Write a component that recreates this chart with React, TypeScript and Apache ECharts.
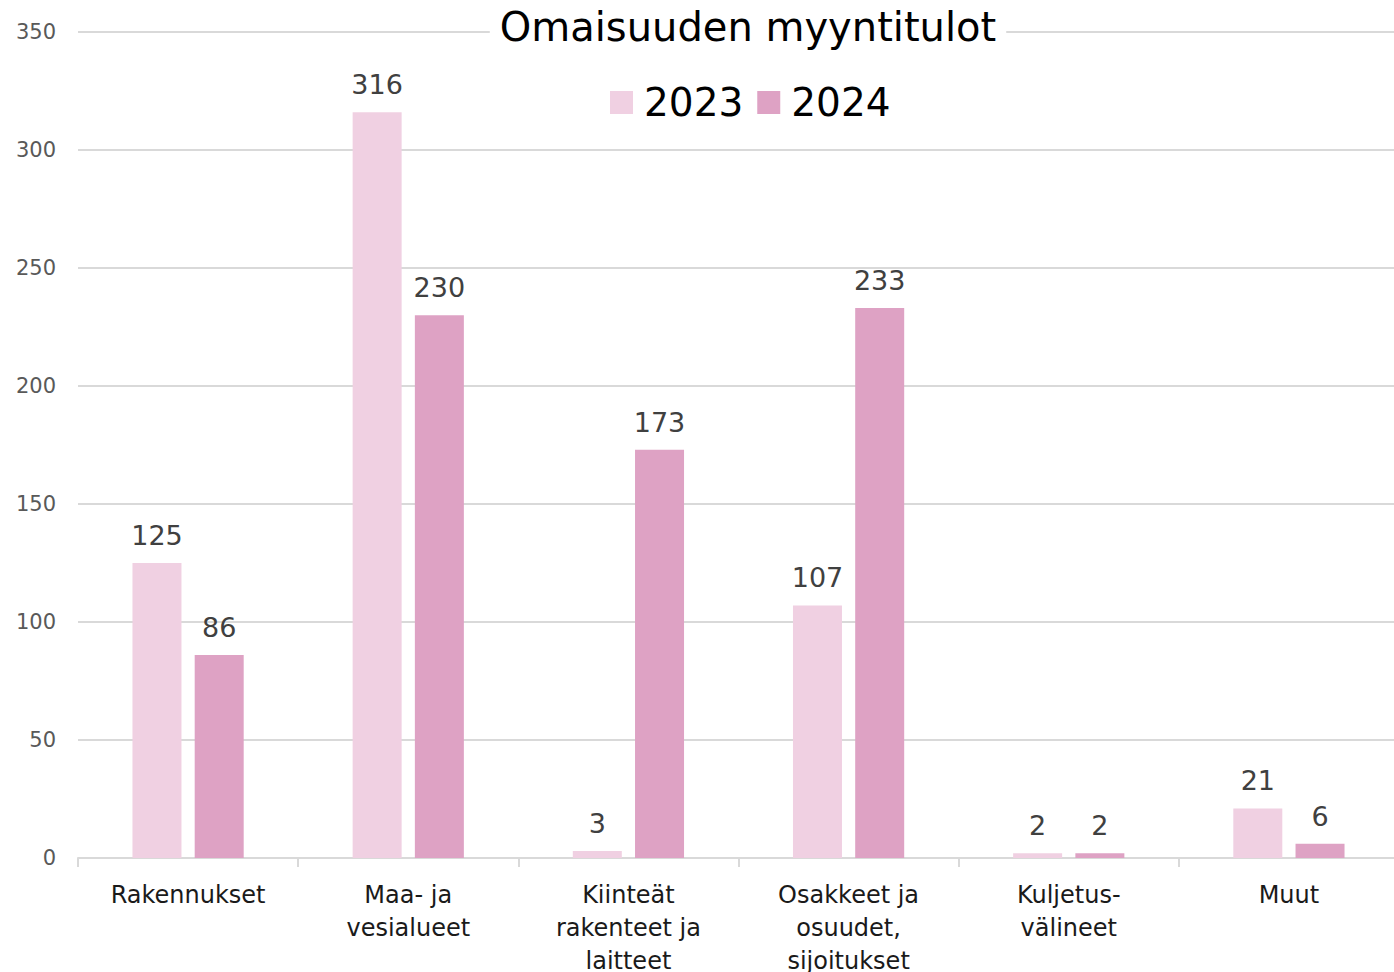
import React, { useEffect, useRef } from "react";
import * as echarts from "echarts";

const categories = [
  "Rakennukset",
  "Maa- ja\nvesialueet",
  "Kiinteät\nrakenteet ja\nlaitteet",
  "Osakkeet ja\nosuudet,\nsijoitukset",
  "Kuljetus-\nvälineet",
  "Muut",
];
const values2023 = [125, 316, 3, 107, 2, 21];
const values2024 = [86, 230, 173, 233, 2, 6];
const seriesNames = ["2023", "2024"];
const FONT = "'DejaVu Sans', 'Noto Sans', sans-serif";

export default function App() {
  const ref = useRef<HTMLDivElement>(null);
  useEffect(() => {
    if (!ref.current) return;
    const chart = echarts.init(ref.current, null, { renderer: "svg" });
    const labelStyle = {
      show: true,
      position: "top" as const,
      distance: 14,
      fontSize: 27,
      color: "#404040",
      fontFamily: FONT,
    };
    chart.setOption({
      animation: false,
      backgroundColor: "#ffffff",
      title: {
        text: "Omaisuuden myyntitulot",
        left: 738,
        textAlign: "center",
        top: 7,
        backgroundColor: "#ffffff",
        padding: [0, 10],
        textStyle: { fontSize: 40, fontWeight: "normal", color: "#000000", fontFamily: FONT },
      },
      legend: {
        data: seriesNames,
        left: 605,
        top: 78,
        itemWidth: 23,
        itemHeight: 23,
        itemGap: 14,
        icon: "rect",
        textStyle: { fontSize: 39, color: "#000000", fontFamily: FONT, padding: [0, 0, 0, 6] },
      },
      grid: {
        left: 78,
        right: 1,
        top: 32,
        bottom: 114,
        containLabel: false,
        outerBoundsMode: "none",
      },
      xAxis: {
        type: "category",
        data: categories,
        axisLine: { show: true, lineStyle: { color: "#d9d9d9", width: 2 } },
        axisTick: { show: true, length: 9, lineStyle: { color: "#d9d9d9", width: 2 } },
        axisLabel: {
          fontSize: 24,
          color: "#1a1a1a",
          fontFamily: FONT,
          lineHeight: 33,
          margin: 20,
          interval: 0,
        },
      },
      yAxis: {
        type: "value",
        min: 0,
        max: 350,
        interval: 50,
        axisLine: { show: false },
        axisTick: { show: false },
        splitLine: { lineStyle: { color: "#d9d9d9", width: 2 } },
        axisLabel: { fontSize: 21, color: "#595959", fontFamily: FONT, margin: 22 },
      },
      series: [
        {
          name: seriesNames[0],
          type: "bar",
          data: values2023,
          barWidth: 49,
          barGap: "27%",
          itemStyle: { color: "#f0d0e2" },
          label: labelStyle,
        },
        {
          name: seriesNames[1],
          type: "bar",
          data: values2024,
          barWidth: 49,
          barGap: "27%",
          itemStyle: { color: "#dea2c4" },
          label: labelStyle,
        },
      ],
    });
    return () => chart.dispose();
  }, []);
  return <div ref={ref} style={{ position: "fixed", left: 0, top: 0, width: 1400, height: 972 }} />;
}
